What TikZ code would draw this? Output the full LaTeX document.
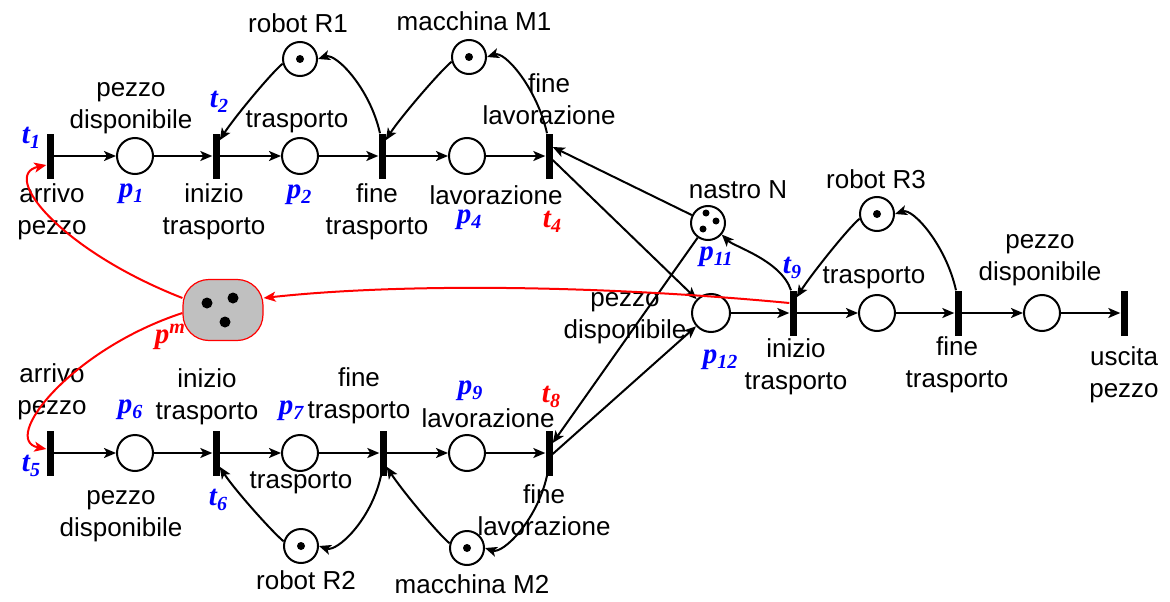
\documentclass[tikz,border=0pt]{standalone}
\usepackage{fontspec}
\setmainfont{Liberation Sans}
\newfontfamily\labf{Liberation Serif}
\usetikzlibrary{arrows.meta}
\newcommand{\PL}[2]{{\labf\bfseries\itshape #1\raisebox{-5pt}{\fontsize{20}{20}\selectfont #2}}}
\definecolor{pmgray}{RGB}{192,192,192}
\begin{document}
\begin{tikzpicture}[x=1pt,y=-1pt,
  place/.style={circle,draw,line width=2pt,minimum size=36pt,inner sep=0pt},
  trans/.style={rectangle,fill=black,minimum width=7pt,minimum height=45pt,inner sep=0pt},
  tok/.style={circle,fill=black,minimum size=8pt,inner sep=0pt},
  arc/.style={line width=2pt,-{Stealth[length=12pt,width=10pt,inset=3pt]}},
  redarc/.style={arc,red},
  lbl/.style={font=\fontsize{26}{32}\selectfont,align=center,inner sep=0pt},
  plab/.style={text=blue,font=\fontsize{29}{32}\selectfont,inner sep=0pt},
  tlab/.style={text=red,font=\fontsize{29}{32}\selectfont,inner sep=0pt}]
\useasboundingbox (0,0) rectangle (1170,602);
% top row
\node[trans] (t1) at (50,156) {};
\node[place] (p1) at (135,156) {};
\node[trans] (t2) at (216,156) {};
\node[place] (p2) at (300,156) {};
\node[trans] (t3) at (382,156) {};
\node[place] (p4) at (467,156) {};
\node[trans] (t4) at (549,156) {};
\node[place,minimum size=34pt] (R1) at (300,59) {};
\node[tok] (k1) at (300,59) {};
\node[place,minimum size=34pt] (M1) at (469,57) {};
\node[tok] (k2) at (469,57) {};
% middle
\node[place,minimum size=34pt] (p11) at (708,223) {};
\node[tok,minimum size=7pt] (k3) at (706,213) {};
\node[tok,minimum size=7pt] (k4) at (716,221) {};
\node[tok,minimum size=7pt] (k5) at (703,229) {};
\node[place,minimum size=34pt] (R3) at (877,214) {};
\node[tok] (k6) at (877,214) {};
\node[place,minimum size=38pt] (p12) at (711,313) {};
\node[trans] (t9) at (793,313) {};
\node[place] (p13) at (877,313) {};
\node[trans] (t10) at (958,313) {};
\node[place] (p14) at (1042,313) {};
\node[trans] (t11) at (1124,313) {};
% pm
\node[draw=red,line width=1.2pt,fill=pmgray,rounded corners=26pt,minimum width=80pt,minimum height=61pt,inner sep=0pt] (pm) at (223,310) {};
\node[tok,minimum size=11pt] (k7) at (207,303) {};
\node[tok,minimum size=11pt] (k8) at (233,298) {};
\node[tok,minimum size=11pt] (k9) at (225,322) {};
% bottom row
\node[trans] (t5) at (50,453) {};
\node[place] (p6) at (135,453) {};
\node[trans] (t6) at (216,453) {};
\node[place] (p7) at (300,453) {};
\node[trans] (t7) at (383,453) {};
\node[place] (p9) at (467,453) {};
\node[trans] (t8) at (549,453) {};
\node[place,minimum size=34pt] (R2) at (301,546) {};
\node[tok] (k10) at (301,546) {};
\node[place,minimum size=34pt] (M2) at (467,548) {};
\node[tok] (k11) at (467,548) {};
% labels top
\node[lbl] (l1) at (298,23) {robot R1};
\node[lbl] (l2) at (474,21) {macchina M1};
\node[lbl] (l3) at (131,108) {pezzo\\disponibile};
\node[plab] (l4) at (219,102) {\PL{t}{2}};
\node[lbl] (l5) at (297,122) {trasporto};
\node[lbl] (l6) at (549,99) {fine\\lavorazione};
\node[plab] (l7) at (31,138) {\PL{t}{1}};
\node[lbl] (l8) at (52,212) {arrivo\\pezzo};
\node[plab] (l9) at (131,194) {\PL{p}{1}};
\node[lbl] (l10) at (214,212) {inizio\\trasporto};
\node[plab] (l11) at (299,195) {\PL{p}{2}};
\node[lbl] (l12) at (377,212) {fine\\trasporto};
\node[lbl] (l13) at (496,195) {lavorazione};
\node[plab] (l14) at (469,220) {\PL{p}{4}};
\node[tlab] (l15) at (552,222) {\PL{t}{4}};
% labels middle
\node[lbl] (l16) at (738,190) {nastro N};
\node[plab] (l17) at (716,257) {\PL{p}{11}};
\node[lbl] (l18) at (876,179) {robot R3};
\node[plab] (l19) at (792,268) {\PL{t}{9}};
\node[lbl] (l20) at (874,278) {trasporto};
\node[lbl] (l21) at (1040,260) {pezzo\\disponibile};
\node[lbl] (l22) at (625,318) {pezzo\\disponibile};
\node[plab] (l23) at (720,360) {\PL{p}{12}};
\node[lbl] (l24) at (796,367) {inizio\\trasporto};
\node[lbl] (l25) at (957,365) {fine\\trasporto};
\node[lbl] (l26) at (1124,375) {uscita\\pezzo};
\node[tlab] (l27) at (170,337) {{\labf\bfseries\itshape p\raisebox{10pt}{\fontsize{20}{20}\selectfont m}}};
% labels bottom
\node[lbl] (l28) at (52,392) {arrivo\\pezzo};
\node[plab] (l29) at (31,466) {\PL{t}{5}};
\node[plab] (l30) at (130,410) {\PL{p}{6}};
\node[lbl] (l31) at (207,397) {inizio\\trasporto};
\node[plab] (l32) at (218,500) {\PL{t}{6}};
\node[plab] (l33) at (291,411) {\PL{p}{7}};
\node[lbl] (l34) at (359,396) {fine\\trasporto};
\node[lbl] (l35) at (301,483) {trasporto};
\node[plab] (l36) at (470,391) {\PL{p}{9}};
\node[lbl] (l37) at (488,418) {lavorazione};
\node[tlab] (l38) at (551,397) {\PL{t}{8}};
\node[lbl] (l39) at (121,516) {pezzo\\disponibile};
\node[lbl] (l40) at (544,510) {fine\\lavorazione};
\node[lbl] (l41) at (306,580) {robot R2};
\node[lbl] (l42) at (472,584) {macchina M2};
% row arcs
\draw[arc] (t1) -- (p1);
\draw[arc] (p1) -- (t2);
\draw[arc] (t2) -- (p2);
\draw[arc] (p2) -- (t3);
\draw[arc] (t3) -- (p4);
\draw[arc] (p4) -- (t4);
\draw[arc] (p12) -- (t9);
\draw[arc] (t9) -- (p13);
\draw[arc] (p13) -- (t10);
\draw[arc] (t10) -- (p14);
\draw[arc] (p14) -- (t11);
\draw[arc] (t5) -- (p6);
\draw[arc] (p6) -- (t6);
\draw[arc] (t6) -- (p7);
\draw[arc] (p7) -- (t7);
\draw[arc] (t7) -- (p9);
\draw[arc] (p9) -- (t8);
% resource loops top
\draw[arc] (R1.195) .. controls +(-12,10) and +(14,-22) .. ([yshift=-7pt]t2.north east);
\draw[arc] ([xshift=-2pt]t3.north) .. controls +(-10,-45) and +(18,-6) .. (R1.east);
\draw[arc] (M1.195) .. controls +(-12,10) and +(14,-22) .. ([yshift=-7pt]t3.north east);
\draw[arc] ([xshift=-2pt]t4.north) .. controls +(-10,-45) and +(18,-6) .. (M1.east);
\draw[arc] (R3.195) .. controls +(-12,10) and +(14,-22) .. ([yshift=-7pt]t9.north east);
\draw[arc] ([xshift=-2pt]t10.north) .. controls +(-10,-45) and +(18,-6) .. (R3.east);
\draw[arc] ([xshift=-2pt]t9.north) .. controls +(-10,-30) and +(12,12) .. (p11.-40);
% resource loops bottom
\draw[arc] (R2.165) .. controls +(-12,-10) and +(14,22) .. ([yshift=9pt]t6.south east);
\draw[arc] ([xshift=-2pt]t7.south) .. controls +(-10,45) and +(18,6) .. (R2.east);
\draw[arc] (M2.165) .. controls +(-12,-10) and +(14,22) .. ([yshift=9pt]t7.south east);
\draw[arc] ([xshift=-2pt]t8.south) .. controls +(-10,45) and +(18,6) .. (M2.east);
% cross arcs
\draw[arc] ([yshift=-4pt]t4.east) -- (p12);
\draw[arc] (p11) -- ([yshift=9pt]t4.east);
\draw[arc] (p11) -- ([yshift=10pt]t8.east);
\draw[arc] ([yshift=-1pt]t8.east) -- (p12);
% red arcs
\draw[redarc] ([yshift=10pt]t9.west) .. controls (600,285) and (400,283) .. ([yshift=12pt]pm.east);
\draw[redarc] ([yshift=12pt]pm.west) .. controls (60,250) and (0,175) .. ([yshift=-9pt]t1.west);
\draw[redarc] ([yshift=-3pt]pm.west) .. controls (70,350) and (0,440) .. ([yshift=4pt]t5.west);
\end{tikzpicture}
\end{document}
